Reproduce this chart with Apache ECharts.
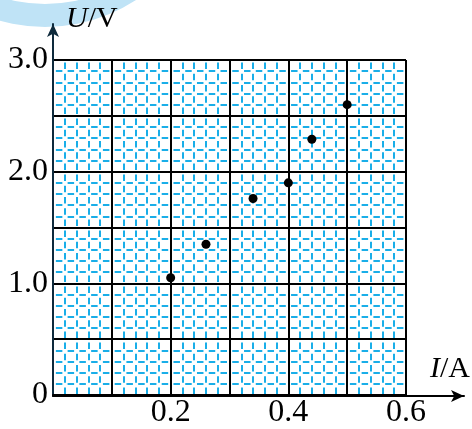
<!DOCTYPE html>
<html>
<head>
<meta charset="utf-8">
<script src="https://cdn.jsdelivr.net/npm/echarts@6/dist/echarts.min.js"></script>
<style>
  html, body { margin: 0; padding: 0; background: #fff; }
  #chart { width: 472px; height: 429px; }
</style>
</head>
<body>
<div id="chart"></div>
<script>
// measured points (I in A, U in V)
const currents = [0.20, 0.26, 0.34, 0.40, 0.44, 0.50]
const voltages = [1.05, 1.35, 1.76, 1.90, 2.29, 2.60]
const xTickLabels = ['0.2', '0.4', '0.6']
const yTickLabels = ['0', '1.0', '2.0', '3.0']

const serif = '"Liberation Serif", "DejaVu Serif", serif'
const blue = '#1aaee8'

const chart = echarts.init(document.getElementById('chart'))

const option = {
  animation: false,
  grid: [
    { left: 53, right: 66, top: 60, bottom: 33 },
    // bigger grid only for the arrowed axis lines
    { left: 53, right: 8, top: 24, bottom: 33 }
  ],
  graphic: [
    {
      // light watermark in the corner
      type: 'ring',
      silent: true,
      z: -10,
      shape: { cx: 45, cy: -140, r0: 144, r: 167 },
      style: { fill: '#bfe3f6' }
    },
    {
      type: 'text', left: 66, top: 4,
      style: {
        text: '{i|U}/V', font: '30px ' + serif, fill: '#000',
        rich: { i: { fontStyle: 'italic', fontSize: 30, fontFamily: serif } }
      }
    },
    {
      type: 'text', left: 430, top: 354,
      style: {
        text: '{i|I}/A', font: '30px ' + serif, fill: '#000',
        rich: { i: { fontStyle: 'italic', fontSize: 30, fontFamily: serif } }
      }
    }
  ],
  xAxis: [
    {
      type: 'value', gridIndex: 0, min: 0, max: 0.6, interval: 0.1,
      axisLine: { show: true, lineStyle: { color: '#000', width: 2 } },
      axisTick: { show: false },
      axisLabel: {
        margin: 2, color: '#000', fontFamily: serif, fontSize: 32,
        formatter: v => {
          const s = v.toFixed(1)
          return xTickLabels.includes(s) ? s : ''
        }
      },
      splitLine: { show: true, lineStyle: { color: '#000', width: 2 } },
      minorTick: { show: false, splitNumber: 5 },
      minorSplitLine: {
        show: true,
        lineStyle: { color: blue, width: 2, type: [6.5, 4.7], dashOffset: 8.6 }
      }
    },
    {
      type: 'value', gridIndex: 1, min: 0, max: 1,
      axisLine: { show: true, symbol: ['none', 'arrow'], symbolSize: [9, 13], lineStyle: { color: '#000', width: 2 } },
      axisTick: { show: false }, axisLabel: { show: false }, splitLine: { show: false }
    }
  ],
  yAxis: [
    {
      type: 'value', gridIndex: 0, min: 0, max: 3, interval: 0.5,
      axisLine: { show: true, lineStyle: { color: '#000', width: 2 } },
      axisTick: { show: false },
      axisLabel: {
        margin: 5, color: '#000', fontFamily: serif, fontSize: 32,
        formatter: v => {
          const s = v === 0 ? '0' : v.toFixed(1)
          return yTickLabels.includes(s) ? s : ''
        }
      },
      splitLine: { show: true, lineStyle: { color: '#000', width: 2 } },
      minorTick: { show: false, splitNumber: 5 },
      minorSplitLine: {
        show: true,
        lineStyle: { color: blue, width: 2, type: [6.5, 5.26], dashOffset: 8.9 }
      }
    },
    {
      type: 'value', gridIndex: 1, min: 0, max: 1,
      axisLine: { show: true, symbol: ['none', 'arrow'], symbolSize: [9, 13], lineStyle: { color: '#0e2a3c', width: 2 } },
      axisTick: { show: false }, axisLabel: { show: false }, splitLine: { show: false }
    }
  ],
  series: [
    {
      type: 'scatter',
      xAxisIndex: 0, yAxisIndex: 0,
      symbolSize: 9,
      itemStyle: { color: '#000', opacity: 1 },
      data: currents.map((c, i) => [c, voltages[i]]),
      z: 10
    }
  ]
}

chart.setOption(option)
</script>
</body>
</html>
